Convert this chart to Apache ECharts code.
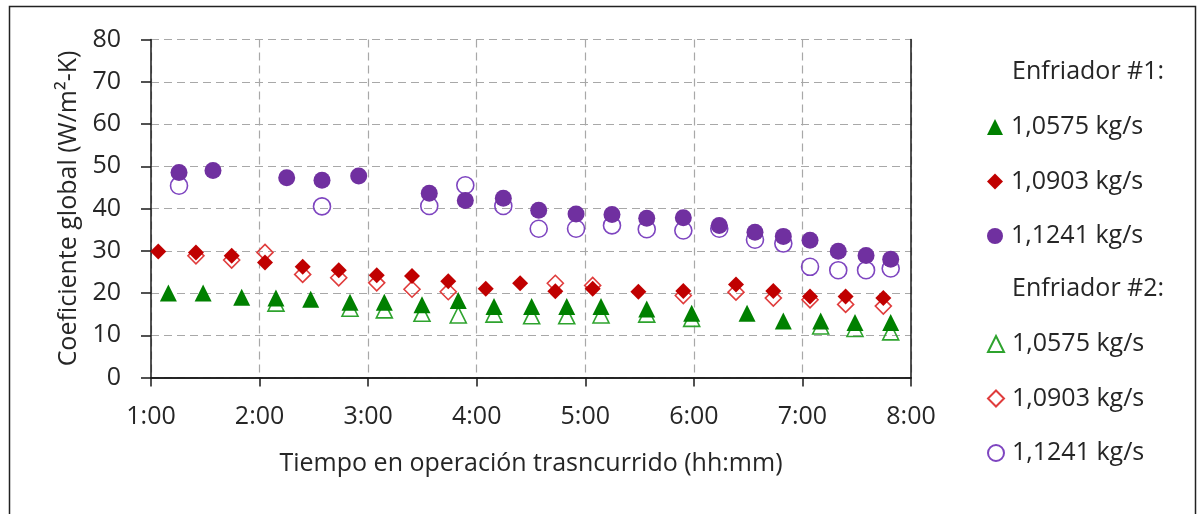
<!DOCTYPE html>
<html>
<head>
<meta charset="utf-8">
<script src="https://cdn.jsdelivr.net/npm/echarts@6/dist/echarts.min.js"></script>
<style>html,body{margin:0;padding:0;background:#fff}#c{width:1204px;height:514px}</style>
</head>
<body>
<div id="c"></div>
<script>
// Time in hours (1.5 = 1:30), values in W/m2-K
const e1_10575 = [[1.16,20.0],[1.48,20.0],[1.835,19.0],[2.151,18.8],[2.471,18.5],[2.833,17.8],[3.149,17.8],[3.496,17.2],[3.830,18.2],[4.159,16.8],[4.506,16.8],[4.829,16.8],[5.145,16.8],[5.566,16.2],[5.98,15.2],[6.49,15.2],[6.824,13.4],[7.168,13.4],[7.484,13.0],[7.813,13.0]];
const e1_10903 = [[1.067,29.8],[1.414,29.6],[1.743,28.8],[2.05,27.2],[2.397,26.2],[2.729,25.4],[3.079,24.2],[3.404,24.0],[3.738,22.8],[4.083,21.0],[4.40,22.3],[4.724,20.4],[5.068,21.0],[5.489,20.3],[5.903,20.5],[6.388,22.0],[6.732,20.5],[7.07,19.2],[7.398,19.2],[7.745,18.8]];
const e1_11241 = [[1.258,48.5],[1.571,49.0],[2.25,47.3],[2.575,46.7],[2.913,47.7],[3.563,43.6],[3.895,41.9],[4.245,42.4],[4.571,39.6],[4.915,38.7],[5.246,38.6],[5.566,37.7],[5.903,37.8],[6.234,36.0],[6.563,34.4],[6.824,33.4],[7.07,32.5],[7.33,29.9],[7.586,28.9],[7.813,28.0]];
const e2_10575 = [[2.151,17.6],[2.833,16.4],[3.149,16.0],[3.496,15.2],[3.830,14.8],[4.159,15.0],[4.506,14.6],[4.829,14.6],[5.145,14.8],[5.566,15.0],[5.98,14.0],[7.168,12.2],[7.484,11.6],[7.813,10.8]];
const e2_10903 = [[1.414,28.8],[1.743,27.8],[2.05,29.6],[2.397,24.4],[2.729,23.6],[3.079,22.4],[3.404,20.9],[3.738,20.3],[4.724,22.3],[5.068,21.8],[5.903,19.4],[6.388,20.2],[6.732,18.8],[7.07,18.4],[7.398,17.3],[7.745,16.9]];
const e2_11241 = [[1.258,45.4],[2.575,40.5],[3.563,40.6],[3.895,45.5],[4.245,40.6],[4.571,35.2],[4.915,35.2],[5.246,36.0],[5.566,35.1],[5.903,34.8],[6.234,35.2],[6.563,32.6],[6.824,31.7],[7.07,26.2],[7.33,25.4],[7.586,25.4],[7.813,25.8]];
const flowLabels = ['1,0575 kg/s','1,0903 kg/s','1,1241 kg/s'];
const groupLabels = ['Enfriador #1:','Enfriador #2:'];
const xTitle = 'Tiempo en operación trasncurrido (hh:mm)';
const yTitle = 'Coeficiente global (W/m²-K)';

const FONT = 'Open Sans';
const TXT = '#262626';
const FS = 25;

const n1 = flowLabels.map(l => 'E1 ' + l);
const n2 = flowLabels.map(l => 'E2 ' + l);

function filled(name, data, symbol, color, size) {
  return {name, type:'scatter', data, symbol, symbolSize:size, z:3,
    itemStyle:{color, opacity:1}};
}
function hollow(name, data, symbol, color, size) {
  return {name, type:'scatter', data, symbol, symbolSize:size, z:2,
    itemStyle:{color:'rgba(255,255,255,0)', borderColor:color, borderWidth:1.6, opacity:1}};
}

const chart = echarts.init(document.getElementById('c'), null, {renderer:'canvas'});
const legendCommon = {
  orient:'vertical', left:982, itemWidth:16, itemHeight:16, itemGap:24.5,
  textStyle:{fontFamily:FONT, fontSize:FS, color:TXT, lineHeight:30, padding:[0,0,0,3]},
  formatter: n => n.replace(/^E\d /,''),
  selectedMode:false
};
chart.setOption({
  animation:false,
  textStyle:{fontFamily:FONT},
  grid:{left:151, right:293, top:39.5, bottom:136.5},
  graphic:[
    {type:'rect', shape:{x:9.5, y:6.5, width:1186, height:520}, style:{fill:'none', stroke:'#222', lineWidth:1.5}, z:0},
    {type:'text', left:1012, top:59, style:{text:groupLabels[0], font:FS+'px "'+FONT+'"', fill:TXT}},
    {type:'text', left:1012, top:276, style:{text:groupLabels[1], font:FS+'px "'+FONT+'"', fill:TXT}}
  ],
  legend:[
    Object.assign({}, legendCommon, {top:107, data:n1}),
    Object.assign({}, legendCommon, {top:324, data:n2})
  ],
  xAxis:[{
    type:'value', min:1, max:8, interval:1,
    name:xTitle, nameLocation:'middle', nameGap:74,
    nameTextStyle:{fontFamily:FONT, fontSize:FS, color:TXT},
    axisLine:{lineStyle:{color:'#1a1a1a', width:1.5}},
    axisTick:{show:true, inside:false, length:9, lineStyle:{color:'#1a1a1a', width:1.5}},
    axisLabel:{fontFamily:FONT, fontSize:FS, color:TXT, margin:27, formatter:v => v + ':00'},
    splitLine:{show:true, lineStyle:{color:'#A8A8A8', width:1.2, type:[8,5]}}
  },{
    type:'value', min:1, max:8, position:'top',
    axisLine:{show:true, lineStyle:{color:'#1a1a1a', width:1.5}},
    axisTick:{show:false}, axisLabel:{show:false}, splitLine:{show:false}
  }],
  yAxis:[{
    type:'value', min:0, max:80, interval:10,
    name:yTitle, nameLocation:'middle', nameGap:68, nameRotate:90,
    nameTextStyle:{fontFamily:FONT, fontSize:FS, color:TXT},
    axisLine:{show:true, lineStyle:{color:'#1a1a1a', width:1.5}},
    axisTick:{show:true, inside:false, length:10, lineStyle:{color:'#1a1a1a', width:1.5}},
    axisLabel:{fontFamily:FONT, fontSize:FS, color:TXT, margin:30},
    splitLine:{show:true, lineStyle:{color:'#A8A8A8', width:1.2, type:[8,5]}}
  },{
    type:'value', min:0, max:80, position:'right',
    axisLine:{show:true, lineStyle:{color:'#1a1a1a', width:1.5}},
    axisTick:{show:false}, axisLabel:{show:false}, splitLine:{show:false}
  }],
  series:[
    hollow(n2[0], e2_10575, 'triangle', '#2EA32E', 16),
    hollow(n2[1], e2_10903, 'diamond', '#E03C3C', 16),
    hollow(n2[2], e2_11241, 'circle', '#7E45C0', 17),
    filled(n1[0], e1_10575, 'triangle', '#008000', 17),
    filled(n1[1], e1_10903, 'diamond', '#C00000', 16),
    filled(n1[2], e1_11241, 'circle', '#7030A0', 17)
  ]
});
</script>
</body>
</html>
